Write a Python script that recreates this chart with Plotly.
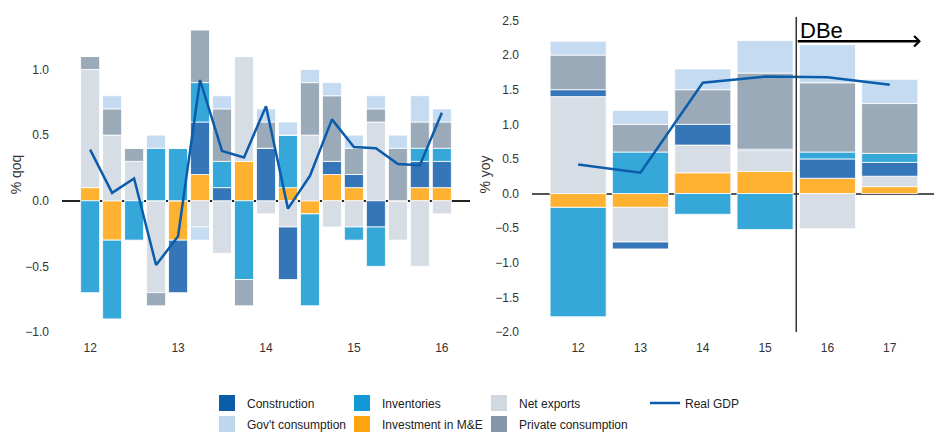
import plotly.graph_objects as go

# ---------------- data ----------------
quarters = [2012 + 0.25 * i for i in range(17)]          # 2012Q1 .. 2016Q1
q_me   = [0.1, -0.3, 0.0, 0.0, -0.3, 0.2, 0.0, 0.3, 0.0, 0.1, -0.1, 0.2, 0.1, 0.0, 0.0, 0.1, 0.1]
q_nx   = [0.9, 0.5, 0.3, -0.7, 0.0, -0.2, -0.4, 0.8, -0.1, -0.2, 0.5, -0.2, -0.2, 0.6, -0.3, -0.5, -0.1]
q_con  = [0.0, 0.0, 0.0, 0.0, -0.4, 0.4, 0.1, 0.0, 0.4, -0.4, 0.0, 0.1, 0.1, -0.2, 0.0, 0.2, 0.2]
q_inv  = [-0.7, -0.6, -0.3, 0.4, 0.4, 0.3, 0.2, -0.6, 0.0, 0.4, -0.7, 0.0, -0.1, -0.3, 0.0, 0.1, 0.1]
q_priv = [0.1, 0.2, 0.1, -0.1, 0.0, 0.4, 0.4, -0.2, 0.2, 0.0, 0.4, 0.5, 0.2, 0.1, 0.4, 0.2, 0.2]
q_gov  = [0.0, 0.1, 0.0, 0.1, 0.0, -0.1, 0.1, 0.0, 0.1, 0.1, 0.1, 0.1, 0.1, 0.1, 0.1, 0.2, 0.1]
q_gdp  = [0.39, 0.06, 0.17, -0.49, -0.27, 0.92, 0.38, 0.33, 0.72, -0.06, 0.19, 0.62, 0.41, 0.40, 0.28, 0.27, 0.67]
q_tickvals = [2012, 2013, 2014, 2015, 2016]
q_ticktext = ["12", "13", "14", "15", "16"]

years = [2012, 2013, 2014, 2015, 2016, 2017]
y_me   = [-0.2, -0.2, 0.3, 0.32, 0.22, 0.1]
y_nx   = [1.4, -0.5, 0.4, 0.3, -0.51, 0.15]
y_con  = [0.1, -0.1, 0.3, 0.02, 0.28, 0.2]
y_inv  = [-1.58, 0.6, -0.3, -0.52, 0.1, 0.13]
y_priv = [0.5, 0.4, 0.5, 1.1, 1.0, 0.72]
y_gov  = [0.2, 0.2, 0.3, 0.47, 0.55, 0.35]
y_gdp  = [0.42, 0.30, 1.60, 1.69, 1.68, 1.57]
y_ticktext = ["12", "13", "14", "15", "16", "17"]
forecast_start = 2015.5
forecast_label = "DBe"

names = {
    "con": "Construction", "inv": "Inventories", "nx": "Net exports",
    "gov": "Gov't consumption", "me": "Investment in M&E", "priv": "Private consumption",
}
bar_colors = {"con": "#3576B9", "inv": "#35A8D9", "nx": "#D7DDE4",
              "gov": "#C4DBF2", "me": "#FFB132", "priv": "#9BAAB9"}
leg_colors = {"con": "#0B5CAB", "inv": "#1199D6", "nx": "#D2D8DF",
              "gov": "#BDD7EF", "me": "#FFA50F", "priv": "#8697AB"}
gdp_color = "#0B5CAB"

FONT = "Liberation Sans, Arial, sans-serif"
PAGE_W, PAGE_H = 942, 433
OFF = 8                       # default page body margin around the plot div
W, H = PAGE_W - OFF, PAGE_H - OFF

fig = go.Figure()

order = ["me", "nx", "con", "inv", "priv", "gov"]
qdata = {"me": q_me, "nx": q_nx, "con": q_con, "inv": q_inv, "priv": q_priv, "gov": q_gov}
ydata = {"me": y_me, "nx": y_nx, "con": y_con, "inv": y_inv, "priv": y_priv, "gov": y_gov}

for k in order:
    fig.add_trace(go.Bar(x=quarters, y=qdata[k], width=0.216, name=names[k],
                         marker=dict(color=bar_colors[k], line=dict(color="white", width=0.8)),
                         xaxis="x", yaxis="y", showlegend=False, hoverinfo="skip"))
for k in order:
    fig.add_trace(go.Bar(x=years, y=ydata[k], width=0.9, name=names[k],
                         marker=dict(color=bar_colors[k], line=dict(color="white", width=0.8)),
                         xaxis="x2", yaxis="y2", showlegend=False, hoverinfo="skip"))

fig.add_trace(go.Scatter(x=quarters, y=q_gdp, mode="lines", name="Real GDP",
                         line=dict(color=gdp_color, width=2.5), xaxis="x", yaxis="y",
                         legend="legend4", showlegend=True))
fig.add_trace(go.Scatter(x=years, y=y_gdp, mode="lines", name="Real GDP",
                         line=dict(color=gdp_color, width=2.5), xaxis="x2", yaxis="y2",
                         showlegend=False))

# legend entries (full-strength colours as in the reference key)
legend_cols = [("legend", ["con", "gov"]), ("legend2", ["inv", "me"]), ("legend3", ["nx", "priv"])]
for lg, keys in legend_cols:
    for k in keys:
        fig.add_trace(go.Scatter(x=[None], y=[None], mode="markers", name=names[k],
                                 marker=dict(symbol="square", size=20, color=leg_colors[k]),
                                 xaxis="x", yaxis="y", legend=lg, legendgroup=k, showlegend=True))

def px_x(p):
    return (p - OFF) / W

def px_y(p):
    return 1 - (p - OFF) / H

legend_common = dict(orientation="v", yanchor="top", xanchor="left", bgcolor="rgba(0,0,0,0)",
                     font=dict(family=FONT, size=12, color="#222"), tracegroupgap=2,
                     traceorder="grouped", itemsizing="trace")
legend_y = px_y(388.5)

axis_font = dict(family=FONT, size=12, color="#333")

fig.update_layout(
    width=W, height=H,
    margin=dict(l=0, r=0, t=0, b=0, autoexpand=False),
    paper_bgcolor="white", plot_bgcolor="white",
    barmode="relative",
    font=dict(family=FONT, color="#333"),
    legend=dict(x=px_x(207), y=legend_y, **legend_common),
    legend2=dict(x=px_x(342), y=legend_y, **legend_common),
    legend3=dict(x=px_x(479), y=legend_y, **legend_common),
    legend4=dict(x=px_x(645), y=legend_y, **legend_common),
    xaxis=dict(domain=[px_x(62), px_x(470)], range=[2011.68, 2016.32],
               tickvals=q_tickvals, ticktext=q_ticktext, showgrid=False, zeroline=False,
               showline=False, tickfont=axis_font, ticklabelstandoff=7, anchor="y"),
    yaxis=dict(domain=[px_y(332), px_y(17)], range=[-1.0, 1.4], dtick=0.5, tickformat=".1f",
               showgrid=False, zeroline=True, zerolinecolor="#222", zerolinewidth=1.5,
               showline=False, tickfont=axis_font, ticklabelstandoff=12, anchor="x",
               title=dict(text="% qoq", font=dict(family=FONT, size=14, color="#333"), standoff=1)),
    xaxis2=dict(domain=[px_x(532), px_x(939)], range=[2011.26, 2017.79],
                tickvals=years, ticktext=y_ticktext, showgrid=False, zeroline=False,
                showline=False, tickfont=axis_font, ticklabelstandoff=7, anchor="y2"),
    yaxis2=dict(domain=[px_y(332), px_y(17)], range=[-2.0, 2.55], dtick=0.5, tickformat=".1f",
                showgrid=False, zeroline=True, zerolinecolor="#555", zerolinewidth=2,
                showline=False, tickfont=axis_font, ticklabelstandoff=12, anchor="x2",
                title=dict(text="% yoy", font=dict(family=FONT, size=14, color="#333"), standoff=1)),
)

fig.add_shape(type="line", xref="x2", yref="y2 domain", x0=forecast_start, x1=forecast_start,
              y0=0, y1=1.0, line=dict(color="#333", width=1.5))
fig.add_annotation(x=2017.5, y=2.2, ax=forecast_start, ay=2.2, xref="x2", yref="y2",
                   axref="x2", ayref="y2", text="", showarrow=True, arrowhead=4,
                   arrowsize=0.8, arrowwidth=2.5, arrowcolor="black")
fig.add_annotation(x=forecast_start + 0.03, y=2.36, xref="x2", yref="y2", text=forecast_label,
                   showarrow=False, xanchor="left", yanchor="middle",
                   font=dict(family=FONT, size=22, color="black"))

fig.write_html("out.html")
